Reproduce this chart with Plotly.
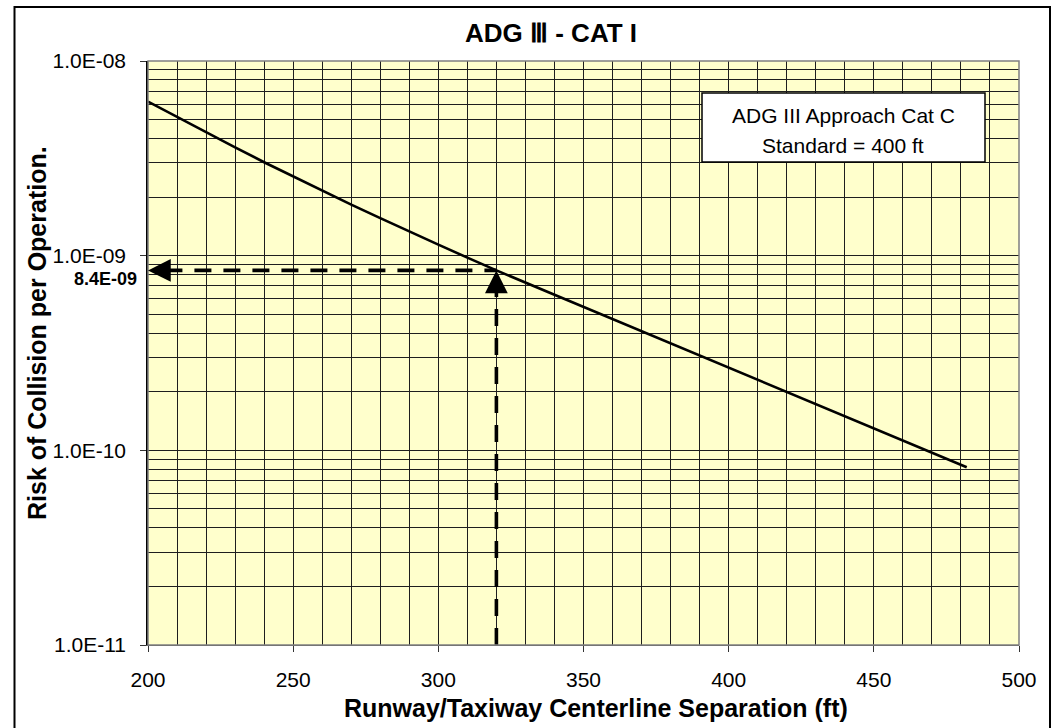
import math
import plotly.graph_objects as go

# Collision risk curve, ADG III / CAT I
separation_ft = [200, 210, 220, 230, 240, 250, 260, 270, 280, 290, 300, 310,
                 320, 340, 360, 380, 400, 420, 440, 460, 482]
risk_per_op = [6.19e-9, 5.15e-9, 4.30e-9, 3.60e-9, 3.02e-9, 2.55e-9, 2.15e-9,
               1.83e-9, 1.56e-9, 1.33e-9, 1.14e-9, 9.77e-10, 8.4e-10,
               6.30e-10, 4.72e-10, 3.54e-10, 2.65e-10, 2.00e-10, 1.50e-10,
               1.12e-10, 8.18e-11]

# Read-off point
read_sep = 320
read_risk = 8.4e-10
read_label = "8.4E-09"

x_tick_vals = [200, 250, 300, 350, 400, 450, 500]
y_tick_vals = [1e-11, 1e-10, 1e-9, 1e-8]
y_tick_text = ["1.0E-11", "1.0E-10", "1.0E-09", "1.0E-08"]
y_minor_vals = [k * 10.0 ** e for e in (-11, -10, -9) for k in range(2, 10)]

title_text = "ADG Ⅲ - CAT I"
x_title = "Runway/Taxiway Centerline Separation (ft)"
y_title = "Risk of Collision per Operation."
note_lines = ["ADG III Approach Cat C", "Standard = 400 ft"]

FONT = "Liberation Sans, Arial, sans-serif"
GRID = "#1e1e1e"

# plot-area geometry in pixels (used to place paper-referenced items)
W, H = 1052, 728
L, R, T, B = 148, 33, 61, 83
PW, PH = W - L - R, H - T - B


def px(xp):
    return (xp - L) / PW


def py(yp):
    return (H - B - yp) / PH


fig = go.Figure()

fig.add_trace(go.Scatter(
    x=separation_ft, y=risk_per_op, mode="lines",
    line=dict(color="black", width=2.6), hoverinfo="skip", showlegend=False))

# dashed read-off lines
fig.add_trace(go.Scatter(
    x=[separation_ft[0] + 6, read_sep], y=[read_risk, read_risk], mode="lines",
    line=dict(color="black", width=3.6, dash="17px,12px"),
    hoverinfo="skip", showlegend=False))
fig.add_trace(go.Scatter(
    x=[read_sep, read_sep], y=[y_tick_vals[0], read_risk * 0.86], mode="lines",
    line=dict(color="black", width=3.6, dash="17px,12px"),
    hoverinfo="skip", showlegend=False))

annotations = [
    # arrow heads
    dict(x=separation_ft[0], y=math.log10(read_risk), xref="x", yref="y",
         ax=20, ay=0, text="", showarrow=True, arrowhead=2, arrowsize=1.3,
         arrowwidth=3.5, arrowcolor="black", standoff=0),
    dict(x=read_sep, y=math.log10(read_risk), xref="x", yref="y",
         ax=0, ay=20, text="", showarrow=True, arrowhead=2, arrowsize=1.3,
         arrowwidth=3.5, arrowcolor="black", standoff=0),
    # value label by the axis
    dict(x=px(139), y=py(279), xref="paper", yref="paper", xanchor="right",
         yanchor="middle", showarrow=False, text="<b>" + read_label + "</b>",
         font=dict(family=FONT, size=18, color="black")),
    # axis titles
    dict(x=px(596), y=py(708), xref="paper", yref="paper", xanchor="center",
         yanchor="middle", showarrow=False, text="<b>" + x_title + "</b>",
         font=dict(family=FONT, size=25, color="black")),
    dict(x=px(37), y=py(333), xref="paper", yref="paper", xanchor="center",
         yanchor="middle", showarrow=False, text="<b>" + y_title + "</b>",
         textangle=-90, font=dict(family=FONT, size=25, color="black")),
    # title
    dict(x=px(551), y=py(33), xref="paper", yref="paper", xanchor="center",
         yanchor="middle", showarrow=False, text="<b>" + title_text + "</b>",
         font=dict(family=FONT, size=26, color="black")),
    # note box text
    dict(x=px(843), y=py(115), xref="paper", yref="paper", xanchor="center",
         yanchor="middle", showarrow=False, text=note_lines[0],
         font=dict(family=FONT, size=21, color="black")),
    dict(x=px(843), y=py(145), xref="paper", yref="paper", xanchor="center",
         yanchor="middle", showarrow=False, text=note_lines[1],
         font=dict(family=FONT, size=21, color="black")),
]

shapes = [
    # plot-area frame
    dict(type="rect", xref="paper", yref="paper", x0=0, x1=1, y0=0, y1=1,
         line=dict(color="#808080", width=1.5), layer="above"),
    # note box
    dict(type="rect", xref="paper", yref="paper", x0=px(702), x1=px(985),
         y0=py(162), y1=py(93), fillcolor="white",
         line=dict(color="black", width=1.5), layer="above"),
    # outer chart border
    dict(type="rect", xref="paper", yref="paper", x0=px(14.5), x1=px(1050),
         y0=py(745), y1=py(7), line=dict(color="black", width=2)),
]

fig.update_layout(
    width=W, height=H,
    margin=dict(l=L, r=R, t=T, b=B, pad=0),
    paper_bgcolor="white", plot_bgcolor="#FFFFCC",
    font=dict(family=FONT, color="black"),
    annotations=annotations, shapes=shapes,
    xaxis=dict(
        range=[200, 500], tickmode="array", tickvals=x_tick_vals,
        ticks="outside", ticklen=6, tickwidth=1, tickcolor="#333",
        showline=True, linecolor="#555", linewidth=1,
        showgrid=True, gridcolor=GRID, gridwidth=1,
        minor=dict(dtick=10, tick0=200, showgrid=True, gridcolor=GRID,
                   gridwidth=1, ticks=""),
        tickfont=dict(family=FONT, size=21, color="black"),
        ticklabelstandoff=10, zeroline=False, fixedrange=True),
    yaxis=dict(
        type="log", range=[-11, -8], tickmode="array", tickvals=y_tick_vals,
        ticktext=y_tick_text, ticks="outside", ticklen=6, tickwidth=1,
        tickcolor="#333", showline=True, linecolor="black", linewidth=1.5,
        showgrid=True, gridcolor=GRID, gridwidth=1,
        minor=dict(tickvals=y_minor_vals, showgrid=True, gridcolor=GRID,
                   gridwidth=1, ticks=""),
        tickfont=dict(family=FONT, size=21, color="black"),
        ticklabelstandoff=10, zeroline=False, fixedrange=True),
)

fig.write_html("out.html")
